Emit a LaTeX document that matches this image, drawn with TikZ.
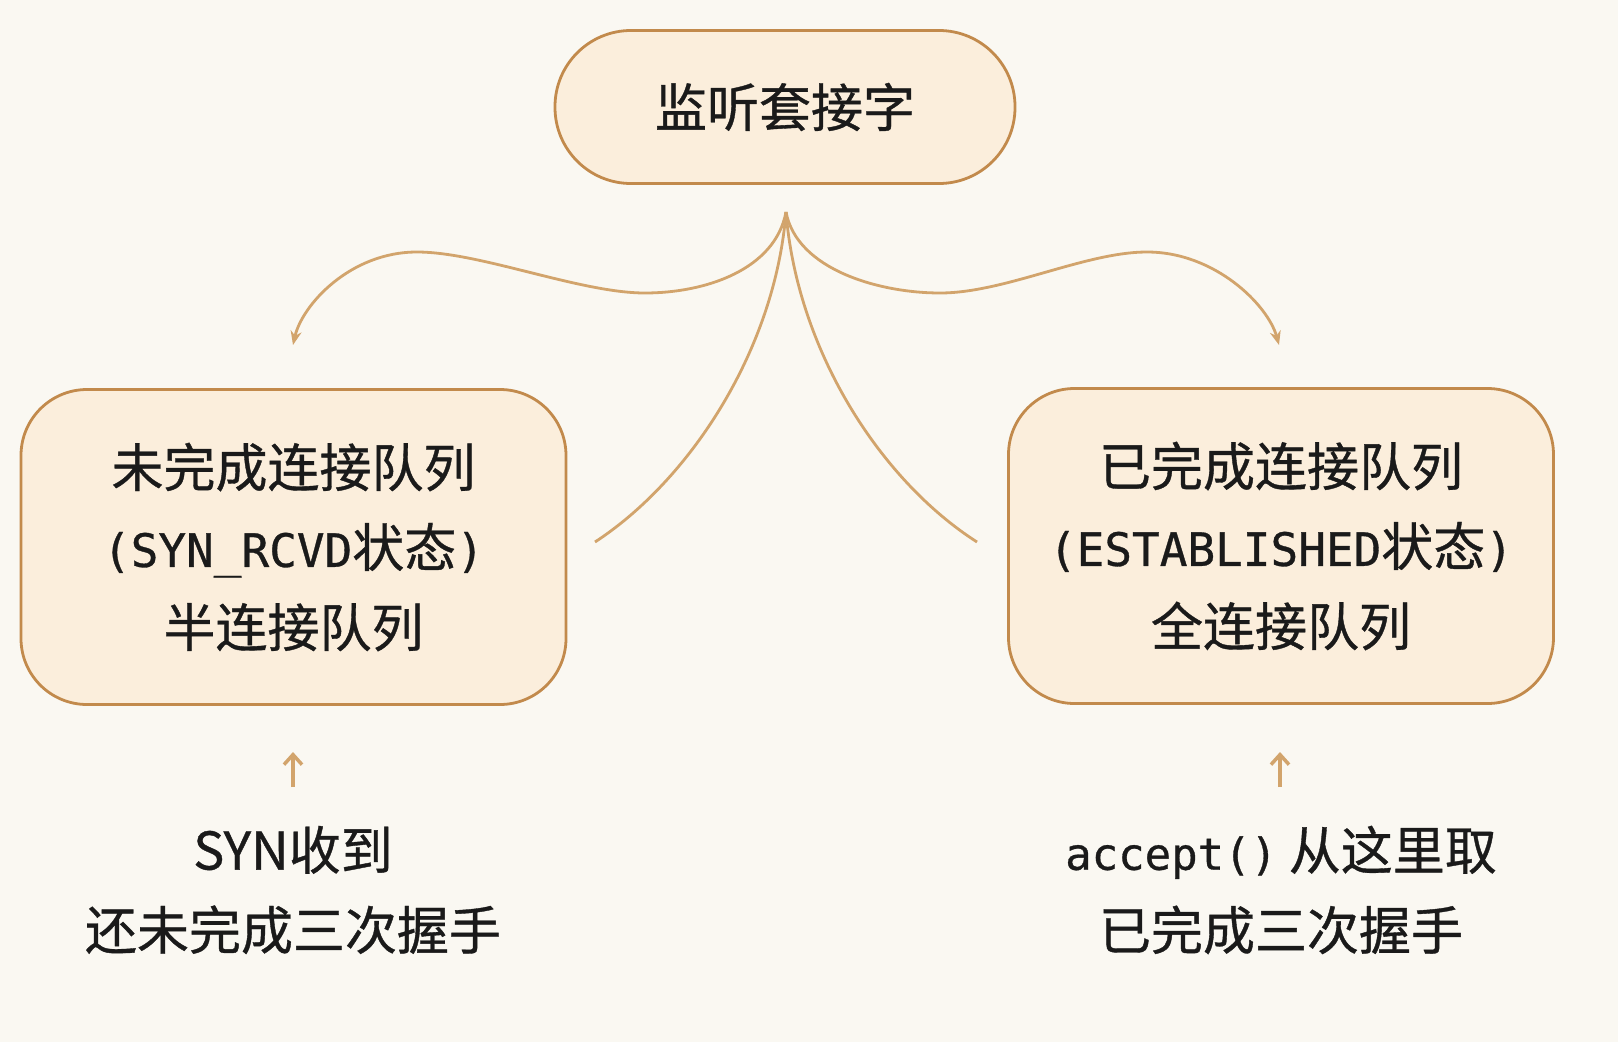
\documentclass[tikz,border=0pt]{standalone}
\usepackage{fontspec}
\setmainfont{Noto Sans CJK SC}[RawFeature={embolden=0.7}]
\newfontfamily\monofont{DejaVu Sans Mono}[RawFeature={embolden=0.7}]
\usetikzlibrary{arrows.meta}
\definecolor{bgc}{HTML}{FAF8F2}
\definecolor{boxfill}{HTML}{FBEEDC}
\definecolor{boxline}{HTML}{C28A4C}
\definecolor{arcc}{HTML}{D2A46C}
\definecolor{txt}{HTML}{1A1A1A}
\newcommand{\mtxt}[1]{{\monofont\fontsize{46}{80}\selectfont #1}}
\newcommand{\mtxtb}[1]{{\monofont\fontsize{44}{80}\selectfont #1}}
\tikzset{
  bigtext/.style={text=txt, font=\fontsize{52}{80}\selectfont, align=center},
  pillbox/.style={bigtext, draw=boxline, fill=boxfill, line width=2.8pt,
    rounded corners=76pt, minimum width=460pt, minimum height=153pt, inner sep=0pt},
  queuebox/.style={bigtext, draw=boxline, fill=boxfill, line width=2.8pt,
    rounded corners=66pt, minimum width=545pt, minimum height=315pt, inner sep=0pt},
  notetext/.style={bigtext, inner sep=0pt},
  arcline/.style={draw=arcc, line width=2.8pt},
  arcarrow/.style={arcline, -{Stealth[length=14pt,width=11pt]}},
  uparrow/.style={draw=arcc, line width=3.5pt, -{Straight Barb[length=10pt,width=18pt]}}
}
\begin{document}
\begin{tikzpicture}[x=1pt,y=-1pt]
\fill[bgc] (0,0) rectangle (1618,1042);
\useasboundingbox (0,0) rectangle (1618,1042);

\node[pillbox] (top) at (785,107) {监听套接字};
\node[queuebox] (left) at (293.5,547) {未完成连接队列\\\mtxt{(SYN\_RCVD}状态\mtxt{)}\\半连接队列};
\node[queuebox] (right) at (1281,546) {已完成连接队列\\\mtxt{(ESTABLISHED}状态\mtxt{)}\\全连接队列};
\node[notetext] (lnote) at (293,890) {SYN收到\\还未完成三次握手};
\node[notetext] (rnote) at (1281,890) {\mtxtb{accept()} 从这里取\\已完成三次握手};

\coordinate (apex) at (786,212);
\coordinate (lend) at (293,345);
\coordinate (rend) at (1279,345);
\coordinate (llong) at (595,542);
\coordinate (rlong) at (977,542);
\coordinate (la1) at (293,787);
\coordinate (la2) at (293,752);
\coordinate (ra1) at (1280,787);
\coordinate (ra2) at (1280,752);

\draw[arcarrow] (apex) .. controls (775,270) and (705,293) .. (645,293)
  .. controls (580,293) and (480,252) .. (417,252)
  .. controls (350,252) and (302,305) .. (lend);
\draw[arcarrow] (apex) .. controls (797,270) and (880,293) .. (940,293)
  .. controls (1005,293) and (1085,252) .. (1147,252)
  .. controls (1215,252) and (1268,305) .. (rend);
\draw[arcline] (apex) .. controls (775,350) and (690,480) .. (llong);
\draw[arcline] (apex) .. controls (797,350) and (880,480) .. (rlong);

\draw[uparrow] (la1) -- (la2);
\draw[uparrow] (ra1) -- (ra2);
\end{tikzpicture}
\end{document}
